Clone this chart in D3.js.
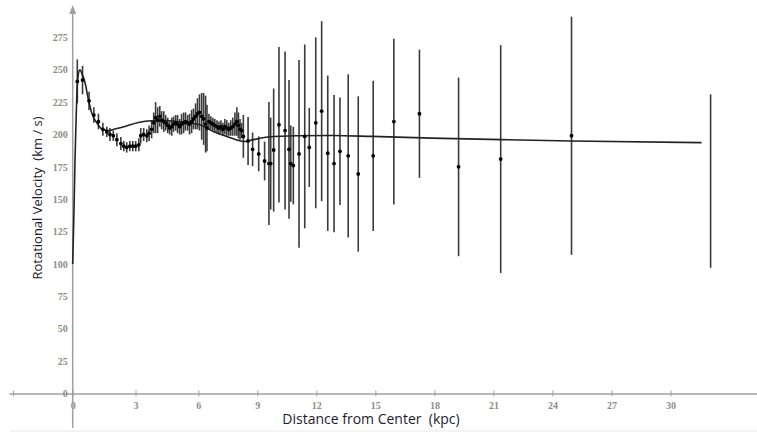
<!DOCTYPE html>
<html>
<head>
<meta charset="utf-8">
<script src="https://cdn.jsdelivr.net/npm/d3@7/dist/d3.min.js"></script>
<style>
  body { margin: 0; background: #fff; }
  svg { display: block; }
</style>
</head>
<body>
<div id="chart"></div>
<script>
// rotation curve data (kpc, km/s)
var innerR   = [0.22,0.47,0.78,1.01,1.23,1.44,1.63,1.78,1.94,2.11,2.30,2.44,2.58,2.73,2.87,3.01,3.16,3.25,3.39,3.54,3.65,3.77,3.87,3.96,4.06,4.16,4.25,4.35,4.44,4.54,4.63,4.73,4.82,4.92,5.01,5.11,5.20,5.30,5.39,5.49,5.58,5.68,5.77,5.87,5.96,6.06,6.17,6.27,6.37,6.44,6.54,6.64,6.74,6.84,6.95,7.05,7.15,7.25,7.35,7.45,7.55,7.65,7.75,7.86,7.96,8.04,8.12,8.20];
var innerV   = [241,242,226,215,210,204,202,200,199,196,193,191,190,191,191,191,192,199,200,199,201,204,209,213,211,214,211,210,209,207,205,206,208,209,208,206,208,209,210,209,208,210,212,214,216,217,214,212,208,205,210,209,208,207,206,205,206,204,206,205,204,205,206,208,210,207,204,203];
var innerErr = [17,11,7,6,6,5,4,5,4,5,5,4,4,4,4,4,5,6,5,5,6,7,8,12,10,8,7,8,6,6,5,7,6,6,7,6,8,8,7,6,8,9,8,10,12,14,18,20,22,18,6,5,5,5,5,5,5,5,6,6,5,6,7,9,11,10,8,6];

var outerR   = [8.29,8.53,8.76,9.07,9.37,9.59,9.68,9.83,10.10,10.41,10.61,10.70,10.83,11.12,11.41,11.64,11.97,12.27,12.58,12.90,13.20,13.62,14.13,14.89,15.94,17.24,19.23,21.37,24.97,32.04];
var outerV   = [198.5,195,188.5,185,179.5,177.5,177.5,188,207.5,203,188.5,177.5,176,185,198.5,190,209,218,185.5,177.5,187,183.5,169.5,183.5,210,216,175,181,199,164];
var outerErr = [16.5,18.5,13,13.5,15,47.5,35.5,47.5,60,61,53.5,29.5,30,72.5,71,30.5,66,69.5,60,53,41.5,63,60,58,64,49.5,69,88,92,67];
var outerDot = [1,1,1,1,1,1,1,1,1,1,1,1,1,1,1,1,1,1,1,1,1,1,1,1,1,1,1,1,1,0];

// model curve
var curveR = [0,0.06,0.11,0.16,0.20,0.25,0.30,0.35,0.44,0.59,0.75,0.91,1.15,1.39,1.70,2.01,2.49,3.14,3.78,4.39,4.96,5.54,6.08,6.76,7.44,8.12,8.37,8.63,9.56,10.97,12.80,14.83,17.86,21.41,24.95,31.58];
var curveV = [100,140,180,210,232,244,249,250,247,240,227,216.5,209,204.4,203,204.2,206.2,209.3,210.6,210.8,210,209,207.5,202.3,198.5,195.1,194.6,195.4,198,199,199.2,198.5,197.2,196,195,193.7];

var xTicks = [0,3,6,9,12,15,18,21,24,27,30];
var yTicks = [0,25,50,75,100,125,150,175,200,225,250,275];

var W = 757, H = 433;

var svg = d3.select('#chart').append('svg')
    .attr('width', W)
    .attr('height', H);

// the original axis is slightly stretched between 0 and 6
var x = d3.scaleLinear().domain([-3.2, 0, 6, 34.5]).range([9, 72.7, 198.3, 759]);
var y = d3.scaleLinear().domain([-26.7, 300]).range([428, 5]);

var axisColor = '#a0a0a0';
var labelColor = '#8c8c8c';

// faint bottom line
svg.append('line')
    .attr('x1', 10).attr('x2', W)
    .attr('y1', 431).attr('y2', 431)
    .style('stroke', '#e4ebe4')
    .style('stroke-width', 1);

// x axis
var xAx = svg.append('g')
    .attr('transform', `translate(0,${y(0)})`)
    .call(d3.axisBottom(x).tickValues([-3].concat(xTicks)).tickSize(3).tickSizeOuter(0).tickFormat(d => d < 0 ? '' : d));
xAx.select('.domain').style('stroke', axisColor).style('stroke-width', 1.5);
xAx.selectAll('.tick line').style('stroke', axisColor).attr('y1', -3).attr('y2', 3);
xAx.selectAll('.tick text')
    .attr('y', 8)
    .style('font', 'bold 10px "Liberation Serif", "DejaVu Serif", serif')
    .style('fill', labelColor);

// y axis
var yAx = svg.append('g')
    .attr('transform', `translate(${x(0)},0)`)
    .call(d3.axisLeft(y).tickValues(yTicks).tickSize(0).tickSizeOuter(0).tickPadding(5));
yAx.select('.domain').remove();
yAx.selectAll('.tick text')
    .style('font', 'bold 10px "Liberation Serif", "DejaVu Serif", serif')
    .style('fill', labelColor);

svg.append('line')
    .attr('x1', x(0)).attr('x2', x(0))
    .attr('y1', 428).attr('y2', 12)
    .style('stroke', axisColor)
    .style('stroke-width', 1.5);
svg.append('path')
    .attr('d', `M${x(0)},5 L${x(0) - 3.5},14 L${x(0) + 3.5},14 Z`)
    .style('fill', axisColor);

// titles
svg.append('text')
    .attr('transform', 'translate(371,424)')
    .attr('text-anchor', 'middle')
    .style('white-space', 'pre')
    .style('font', '14px "Open Sans", "Liberation Sans", sans-serif')
    .style('fill', '#1b1b2b')
    .text('Distance from Center  (kpc)');

svg.append('text')
    .attr('transform', 'translate(42,198) rotate(-90)')
    .attr('text-anchor', 'middle')
    .style('white-space', 'pre')
    .style('font', '13px "Open Sans", "Liberation Sans", sans-serif')
    .style('fill', '#1b1b2b')
    .text('Rotational Velocity  (km / s)');

var barColor = '#3a3a3a';

var inner = innerR.map((r, i) => ({r: r, v: innerV[i], e: innerErr[i]}));
var outer = outerR.map((r, i) => ({r: r, v: outerV[i], e: outerErr[i], dot: outerDot[i]}));

// error bars
svg.append('g').selectAll('line')
    .data(inner.concat(outer))
    .enter()
    .append('line')
    .attr('x1', d => x(d.r)).attr('x2', d => x(d.r))
    .attr('y1', d => y(d.v + d.e)).attr('y2', d => y(d.v - d.e))
    .style('stroke', barColor)
    .style('stroke-width', 1.6);

// model line
var line = d3.line()
    .x((d, i) => x(curveR[i]))
    .y(d => y(d))
    .curve(d3.curveMonotoneX);

svg.append('path')
    .datum(curveV)
    .attr('d', line)
    .style('fill', 'none')
    .style('stroke', '#222')
    .style('stroke-width', 1.6);

// measured points
svg.append('g').selectAll('circle')
    .data(inner.concat(outer.filter(d => d.dot)))
    .enter()
    .append('circle')
    .attr('cx', d => x(d.r))
    .attr('cy', d => y(d.v))
    .attr('r', 1.9)
    .style('fill', '#000');
</script>
</body>
</html>
